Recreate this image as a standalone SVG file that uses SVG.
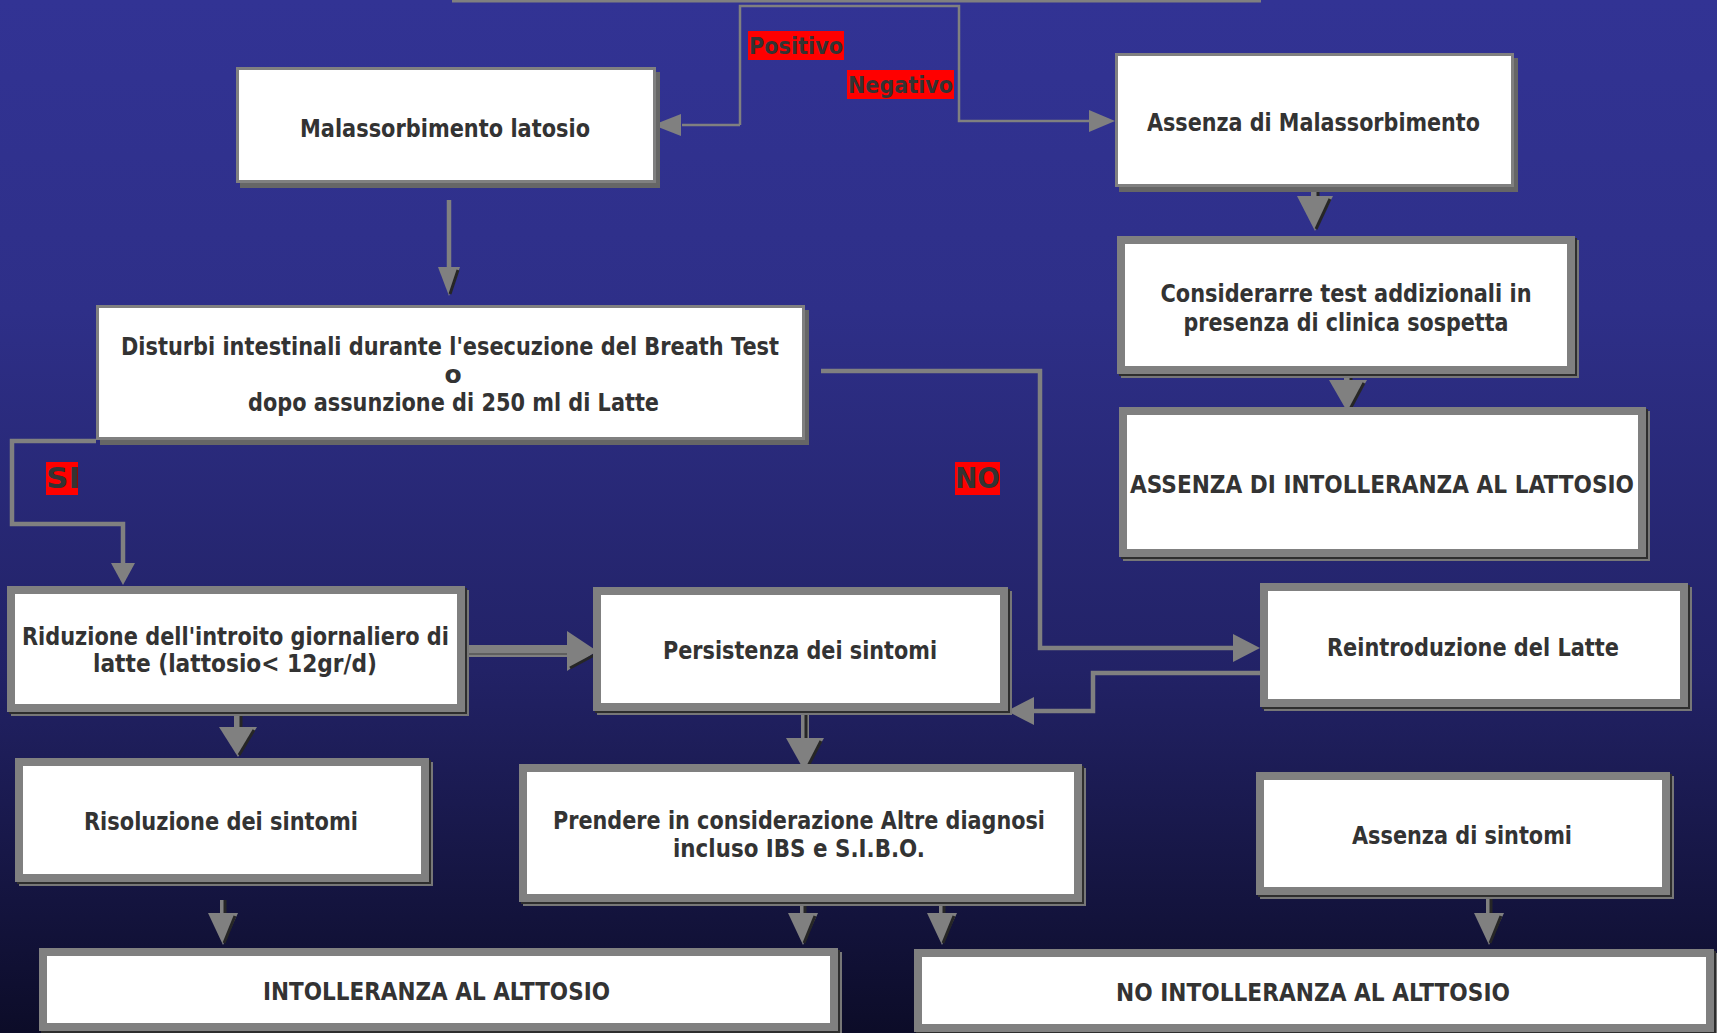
<svg xmlns="http://www.w3.org/2000/svg" width="1717" height="1033" viewBox="0 0 1717 1033">
<defs>
<linearGradient id="bg" x1="0" y1="0" x2="0" y2="1">
<stop offset="0" stop-color="#323394"/>
<stop offset="0.3" stop-color="#2e2f88"/>
<stop offset="0.65" stop-color="#222266"/>
<stop offset="1" stop-color="#0c0c28"/>
</linearGradient>
<style>
.th{fill:#fff;stroke:#808080;stroke-width:3}
.tk{fill:#fff;stroke:#808080;stroke-width:8}
.sh{fill:#777}
.sd{fill:#2e2e2e}
.t{font-family:"DejaVu Sans","Liberation Sans",sans-serif;font-weight:bold;font-size:25px;fill:#333;text-anchor:middle}
.ln{fill:none;stroke:#808080;stroke-width:4.5}
.ln2{fill:none;stroke:#808080;stroke-width:2.5}
.ah{fill:#808080}
.dk{fill:none;stroke:#262626;stroke-width:3}
.sf{fill:#808080}
.lbl{fill:#ff0000}
</style>
</defs>
<rect x="0" y="0" width="1717" height="1033" fill="url(#bg)"/>

<g id="top-box">
<rect x="452" y="-4" width="809" height="6.5" fill="#808080"/>
</g>

<g id="connectors">
<polyline class="ln2" points="740,125 740,6 959,6 959,121 1090,121"/>
<line class="ln2" x1="740" y1="125" x2="682" y2="125"/>
<polygon class="ah" points="681,114 681,136 653,125"/>
<polygon class="ah" points="1089,110 1089,132 1115,121"/>

<line class="ln" x1="449" y1="200" x2="449" y2="268"/>
<polygon class="ah" points="438,267 460,267 449,296"/>
<line class="dk" x1="458" y1="270" x2="450" y2="294"/>

<polyline class="ln" points="96,441 12,441 12,524 123,524 123,564"/>
<polygon class="ah" points="111,563 135,563 123,585"/>

<polyline class="ln" points="821,371 1040,371 1040,648 1234,648"/>
<polygon class="ah" points="1233,634 1233,662 1260,648"/>

<polyline class="ln" points="1260,673 1093,673 1093,711 1033,711"/>
<polygon class="ah" points="1034,697 1034,725 1007,711"/>

<rect class="sf" x="465" y="645" width="104" height="12"/>
<line x1="465" y1="654" x2="568" y2="654" stroke="#555" stroke-width="1.5"/>
<polygon class="ah" points="567,631 567,671 597,651"/>
<line class="dk" x1="570" y1="668" x2="598" y2="653"/>

<rect class="sf" x="1311" y="186" width="8" height="11"/>
<line class="dk" x1="1318" y1="186" x2="1318" y2="197"/>
<polygon class="ah" points="1297,196 1333,196 1315,231"/>
<line class="dk" x1="1330" y1="199" x2="1316" y2="229"/>

<rect class="sf" x="1344" y="373" width="8" height="8"/>
<line class="dk" x1="1351" y1="373" x2="1351" y2="381"/>
<polygon class="ah" points="1329,380 1367,380 1348,413"/>
<line class="dk" x1="1364" y1="383" x2="1349" y2="411"/>

<rect class="sf" x="234" y="712" width="8" height="16"/>
<line class="dk" x1="241" y1="712" x2="241" y2="728"/>
<polygon class="ah" points="219,727 257,727 238,757"/>
<line class="dk" x1="254" y1="730" x2="239" y2="755"/>

<rect class="sf" x="801" y="711" width="8" height="28"/>
<line class="dk" x1="806" y1="711" x2="806" y2="739"/>
<polygon class="ah" points="786,738 824,738 805,772"/>
<line class="dk" x1="821" y1="741" x2="806" y2="770"/>

<rect class="sf" x="220" y="900" width="6" height="14"/>
<line class="dk" x1="225" y1="900" x2="225" y2="914"/>
<polygon class="ah" points="208,913 238,913 223,945"/>
<line class="dk" x1="235" y1="916" x2="224" y2="943"/>

<rect class="sf" x="800" y="902" width="6" height="12"/>
<line class="dk" x1="805" y1="902" x2="805" y2="914"/>
<polygon class="ah" points="788,913 818,913 803,945"/>
<line class="dk" x1="815" y1="916" x2="804" y2="943"/>

<rect class="sf" x="939" y="902" width="6" height="12"/>
<line class="dk" x1="944" y1="902" x2="944" y2="914"/>
<polygon class="ah" points="927,913 957,913 942,945"/>
<line class="dk" x1="954" y1="916" x2="943" y2="943"/>

<rect class="sf" x="1486" y="895" width="6" height="19"/>
<line class="dk" x1="1491" y1="895" x2="1491" y2="914"/>
<polygon class="ah" points="1474,913 1504,913 1489,945"/>
<line class="dk" x1="1501" y1="916" x2="1490" y2="943"/>
</g>

<g id="label-positivo">
<rect class="lbl" x="748" y="31" width="96" height="29"/>
<text class="t" x="796" y="54" style="font-size:23px" textLength="94" lengthAdjust="spacingAndGlyphs">Positivo</text>
</g>
<g id="label-negativo">
<rect class="lbl" x="847" y="70" width="107" height="29"/>
<text class="t" x="900.5" y="93" style="font-size:23px" textLength="105" lengthAdjust="spacingAndGlyphs">Negativo</text>
</g>
<g id="label-si">
<rect class="lbl" x="46" y="462" width="32" height="33"/>
<text class="t" x="63" y="488" style="font-size:28px" textLength="34" lengthAdjust="spacingAndGlyphs">SI</text>
</g>
<g id="label-no">
<rect class="lbl" x="955" y="462" width="45" height="33"/>
<text class="t" x="977.5" y="488" style="font-size:28px" textLength="45" lengthAdjust="spacingAndGlyphs">NO</text>
</g>

<g id="malassorbimento">
<rect x="240" y="72" width="420" height="116" fill="#666"/>
<rect class="th" x="237.5" y="68.5" width="417" height="113"/>
<text class="t" x="445" y="137" textLength="290" lengthAdjust="spacingAndGlyphs">Malassorbimento latosio</text>
</g>

<g id="assenza-malassorbimento">
<rect x="1119" y="58" width="399" height="134" fill="#666"/>
<rect class="th" x="1116.5" y="54.5" width="396" height="131"/>
<text class="t" x="1313.5" y="131" textLength="333" lengthAdjust="spacingAndGlyphs">Assenza di Malassorbimento</text>
</g>

<g id="disturbi">
<rect x="100" y="310" width="709" height="135" fill="#666"/>
<rect class="th" x="97.5" y="306.5" width="706" height="132"/>
<text class="t" x="450" y="354.5" textLength="658" lengthAdjust="spacingAndGlyphs">Disturbi intestinali durante l'esecuzione del Breath Test</text>
<text class="t" x="453" y="382.5">o</text>
<text class="t" x="453.5" y="410.5" textLength="411" lengthAdjust="spacingAndGlyphs">dopo assunzione di 250 ml di Latte</text>
</g>

<g id="considerare">
<rect class="sh" x="1121" y="240" width="458" height="138"/>
<rect class="sd" x="1119" y="238" width="458" height="138"/>
<rect class="tk" x="1121" y="240" width="450" height="130"/>
<text class="t" x="1346" y="301.5" textLength="371" lengthAdjust="spacingAndGlyphs">Considerarre test addizionali in</text>
<text class="t" x="1346" y="330.5" textLength="325" lengthAdjust="spacingAndGlyphs">presenza di clinica sospetta</text>
</g>

<g id="assenza-intolleranza">
<rect class="sh" x="1123" y="411" width="527" height="150"/>
<rect class="sd" x="1121" y="409" width="527" height="150"/>
<rect class="tk" x="1123" y="411" width="519" height="142"/>
<text class="t" x="1382" y="492.5" textLength="504" lengthAdjust="spacingAndGlyphs">ASSENZA DI INTOLLERANZA AL LATTOSIO</text>
</g>

<g id="riduzione">
<rect class="sh" x="11" y="590" width="458" height="126"/>
<rect class="sd" x="9" y="588" width="458" height="126"/>
<rect class="tk" x="11" y="590" width="450" height="118"/>
<text class="t" x="235.5" y="644.5" textLength="427" lengthAdjust="spacingAndGlyphs">Riduzione dell'introito giornaliero di</text>
<text class="t" x="235" y="671.5" textLength="284" lengthAdjust="spacingAndGlyphs">latte (lattosio&lt; 12gr/d)</text>
</g>

<g id="persistenza">
<rect class="sh" x="597" y="591" width="415" height="124"/>
<rect class="sd" x="595" y="589" width="415" height="124"/>
<rect class="tk" x="597" y="591" width="407" height="116"/>
<text class="t" x="800" y="658.5" textLength="274" lengthAdjust="spacingAndGlyphs">Persistenza dei sintomi</text>
</g>

<g id="reintroduzione">
<rect class="sh" x="1264" y="587" width="428" height="124"/>
<rect class="sd" x="1262" y="585" width="428" height="124"/>
<rect class="tk" x="1264" y="587" width="420" height="116"/>
<text class="t" x="1473" y="655.5" textLength="292" lengthAdjust="spacingAndGlyphs">Reintroduzione del Latte</text>
</g>

<g id="risoluzione">
<rect class="sh" x="19" y="762" width="414" height="124"/>
<rect class="sd" x="17" y="760" width="414" height="124"/>
<rect class="tk" x="19" y="762" width="406" height="116"/>
<text class="t" x="221" y="829.5" textLength="274" lengthAdjust="spacingAndGlyphs">Risoluzione dei sintomi</text>
</g>

<g id="prendere">
<rect class="sh" x="523" y="768" width="563" height="138"/>
<rect class="sd" x="521" y="766" width="563" height="138"/>
<rect class="tk" x="523" y="768" width="555" height="130"/>
<text class="t" x="799" y="828.5" textLength="492" lengthAdjust="spacingAndGlyphs">Prendere in considerazione Altre diagnosi</text>
<text class="t" x="799" y="856.5" textLength="252" lengthAdjust="spacingAndGlyphs">incluso IBS e S.I.B.O.</text>
</g>

<g id="assenza-sintomi">
<rect class="sh" x="1260" y="776" width="414" height="123"/>
<rect class="sd" x="1258" y="774" width="414" height="123"/>
<rect class="tk" x="1260" y="776" width="406" height="115"/>
<text class="t" x="1462" y="843.5" textLength="220" lengthAdjust="spacingAndGlyphs">Assenza di sintomi</text>
</g>

<g id="intolleranza">
<rect class="sh" x="43" y="952" width="799" height="83"/>
<rect class="sd" x="41" y="950" width="799" height="83"/>
<rect class="tk" x="43" y="952" width="791" height="75"/>
<text class="t" x="436.5" y="1000" textLength="347" lengthAdjust="spacingAndGlyphs">INTOLLERANZA AL ALTTOSIO</text>
</g>

<g id="no-intolleranza">
<rect class="sh" x="918" y="953" width="800" height="83"/>
<rect class="sd" x="916" y="951" width="800" height="83"/>
<rect class="tk" x="918" y="953" width="792" height="75"/>
<text class="t" x="1313" y="1000.5" textLength="394" lengthAdjust="spacingAndGlyphs">NO INTOLLERANZA AL ALTTOSIO</text>
</g>
</svg>
